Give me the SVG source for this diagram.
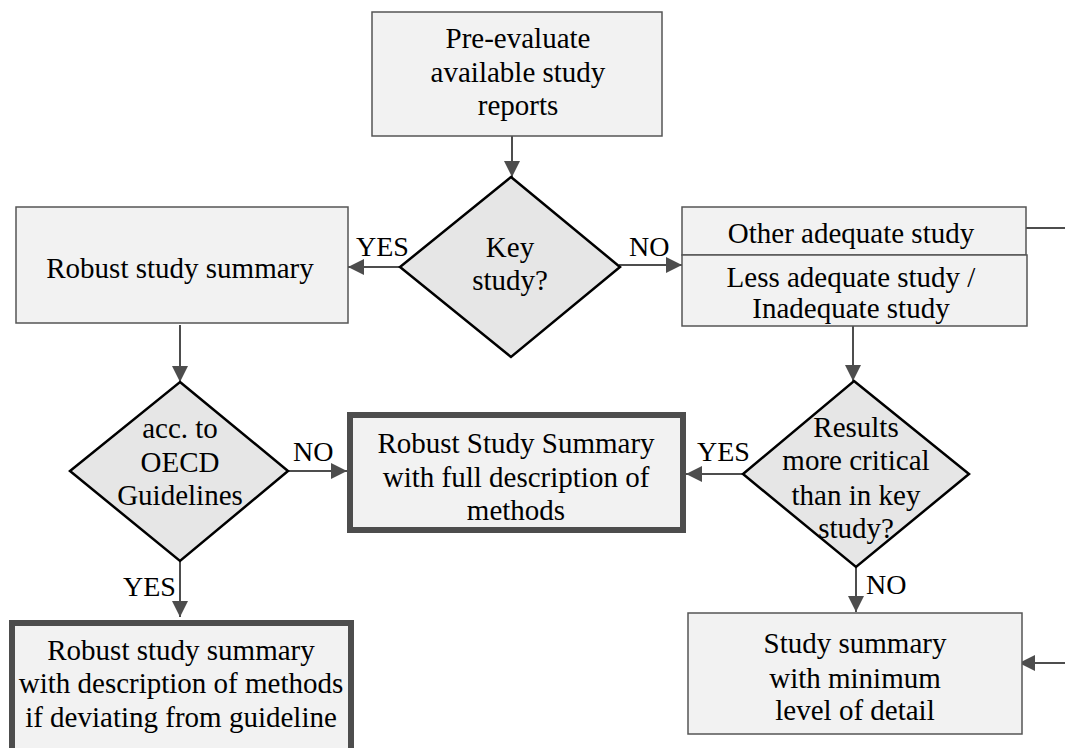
<svg xmlns="http://www.w3.org/2000/svg" width="1065" height="748" viewBox="0 0 1065 748">
<style>
.t{font-family:'Liberation Serif','Times New Roman','DejaVu Serif',serif;font-size:29px;fill:#000;text-anchor:middle}
.l{font-family:'Liberation Serif','Times New Roman','DejaVu Serif',serif;font-size:28px;fill:#000}
.box{fill:#f2f2f2;stroke:#555;stroke-width:1.5}
.bold{fill:#f2f2f2;stroke:#4d4d4d;stroke-width:6}
.dia{fill:#e6e6e6;stroke:#000;stroke-width:2.5}
.c{stroke:#4d4d4d;stroke-width:2;fill:none}
</style>
<defs>
<marker id="ah" markerWidth="16" markerHeight="16" viewBox="0 0 16 16" refX="16" refY="8" orient="auto" markerUnits="userSpaceOnUse">
<path d="M0,0 L16,8 L0,16 Z" fill="#4d4d4d"/>
</marker>
</defs>
<rect width="1065" height="748" fill="#fff"/>
<g id="connectors">
<line class="c" x1="512" y1="136" x2="512" y2="177" marker-end="url(#ah)"/>
<line class="c" x1="400" y1="267" x2="348" y2="267" marker-end="url(#ah)"/>
<line class="c" x1="619" y1="265" x2="682" y2="265" marker-end="url(#ah)"/>
<line class="c" x1="180" y1="325" x2="180" y2="382" marker-end="url(#ah)"/>
<line class="c" x1="288" y1="471" x2="347" y2="471" marker-end="url(#ah)"/>
<line class="c" x1="180" y1="561" x2="180" y2="617" marker-end="url(#ah)"/>
<line class="c" x1="853" y1="326" x2="853" y2="381" marker-end="url(#ah)"/>
<line class="c" x1="743" y1="474" x2="686" y2="474" marker-end="url(#ah)"/>
<line class="c" x1="856" y1="567" x2="856" y2="612" marker-end="url(#ah)"/>
<line class="c" x1="1026" y1="228" x2="1065" y2="228"/>
<line class="c" x1="1065" y1="663" x2="1019" y2="663" marker-end="url(#ah)"/>
<text class="l" x="356" y="256">YES</text>
<text class="l" x="629" y="256">NO</text>
<text class="l" x="293" y="461">NO</text>
<text class="l" x="123" y="596">YES</text>
<text class="l" x="697" y="461">YES</text>
<text class="l" x="866" y="594">NO</text>
</g>
<g id="pre-evaluate">
<rect class="box" x="372" y="12" width="290" height="124"/>
<text class="t" x="518" y="48">Pre-evaluate</text>
<text class="t" x="518" y="82">available study</text>
<text class="t" x="518" y="115">reports</text>
</g>
<g id="key-study">
<polygon class="dia" points="511,177 620,267 511,357 400,267" stroke-width="4"/>
<text class="t" x="510" y="257">Key</text>
<text class="t" x="510" y="290">study?</text>
</g>
<g id="robust-summary">
<rect class="box" x="16" y="207" width="332" height="116"/>
<text class="t" x="180" y="278">Robust study summary</text>
</g>
<g id="other-adequate">
<rect class="box" x="682" y="207" width="344" height="48"/>
<text class="t" x="851" y="243">Other adequate study</text>
</g>
<g id="less-adequate">
<rect class="box" x="682" y="255" width="345" height="71"/>
<text class="t" x="851" y="287">Less adequate study /</text>
<text class="t" x="851" y="318">Inadequate study</text>
</g>
<g id="oecd">
<polygon class="dia" points="180,382 288,471 180,561 70,471"/>
<text class="t" x="180" y="438">acc. to</text>
<text class="t" x="180" y="472">OECD</text>
<text class="t" x="180" y="505">Guidelines</text>
</g>
<g id="full-description">
<rect class="bold" x="350" y="415" width="333" height="115"/>
<text class="t" x="516" y="453">Robust Study Summary</text>
<text class="t" x="516" y="487">with full description of</text>
<text class="t" x="516" y="520">methods</text>
</g>
<g id="results-critical">
<polygon class="dia" points="854,381 969,474 856,567 743,474"/>
<text class="t" x="856" y="437">Results</text>
<text class="t" x="856" y="470">more critical</text>
<text class="t" x="856" y="505">than in key</text>
<text class="t" x="856" y="538">study?</text>
</g>
<g id="deviating">
<rect class="bold" x="12" y="623" width="339" height="140"/>
<text class="t" x="181" y="660">Robust study summary</text>
<text class="t" x="181" y="693">with description of methods</text>
<text class="t" x="181" y="727">if deviating from guideline</text>
</g>
<g id="minimum-detail">
<rect class="box" x="688" y="613" width="334" height="121"/>
<text class="t" x="855" y="653">Study summary</text>
<text class="t" x="855" y="688">with minimum</text>
<text class="t" x="855" y="720">level of detail</text>
</g>
</svg>
